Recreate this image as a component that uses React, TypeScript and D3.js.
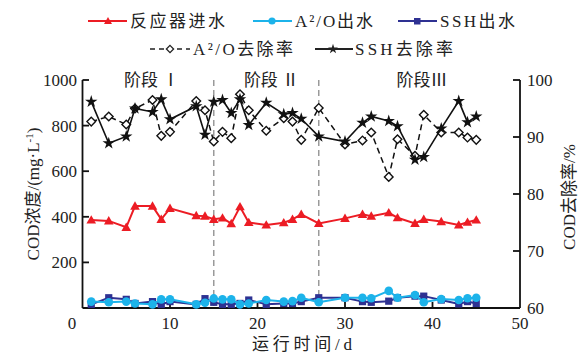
import React from "react";
import * as d3 from "d3";

const days = [1,3,5,6,8,9,10,13,14,15,16,17,18,19,21,23,24,25,27,30,32,33,35,36,38,39,41,43,44,45];
const influent = [386,382,354,447,447,389,437,405,403,389,395,370,444,375,364,374,389,411,371,393,411,403,418,396,371,389,379,364,376,386];
const a2oEff = [28,25,28,20,16,38,38,16,23,42,38,38,16,20,35,28,30,45,25,45,45,43,75,45,57,25,39,35,43,45];
const sshEff = [16,45,38,20,28,16,28,16,41,25,16,16,20,35,16,20,20,28,45,45,28,25,30,45,52,52,35,18,28,20];
const a2oRem = [92.7,93.6,92.2,95.0,96.5,90.2,90.9,96.3,94.7,89.2,90.9,89.8,97.5,94.7,91.1,93.3,92.7,89.5,95.1,88.7,89.4,90.8,83.0,89.6,86.7,93.9,90.8,90.8,89.9,89.5];
const sshRem = [96.2,88.9,90.1,95.0,94.4,96.6,93.1,95.4,90.4,96.2,96.5,94.2,96.6,92.1,96.0,94.0,94.2,93.2,90.1,89.2,92.5,93.6,92.8,91.9,86.0,86.5,91.5,96.3,92.6,93.6];
const xTicks = [0,10,20,30,40,50];
const yLTicks = [200,400,600,800,1000];
const yRTicks = [60,70,80,90,100];
const stageDays = [15,27];
const stageLabels = [
  { text: "阶段 Ⅰ", day: 7.9 },
  { text: "阶段 Ⅱ", day: 21.6 },
  { text: "阶段Ⅲ", day: 38.8 },
];

const RED = "#ec1c24";
const CYAN = "#1cb3ea";
const BLUE = "#2e3192";
const FONT = "'Liberation Serif', 'Noto Sans CJK SC', serif";

const W = 582, H = 354;
const x = d3.scaleLinear().domain([0, 50]).range([82.5, 520]);
const yL = d3.scaleLinear().domain([0, 1000]).range([308, 80]);
const yR = d3.scaleLinear().domain([60, 100]).range([308, 80]);

const tri = (cx: number, cy: number, s = 4.8) =>
  `M${cx},${cy - s}L${cx + s},${cy + s * 0.75}L${cx - s},${cy + s * 0.75}Z`;
const diamond = (cx: number, cy: number, s = 4.3) =>
  `M${cx},${cy - s}L${cx + s},${cy}L${cx},${cy + s}L${cx - s},${cy}Z`;
const starPath = d3.symbol().type(d3.symbolStar).size(48)();

export default function App() {
  const lineL = (vals: number[]) =>
    d3.line<number>().x((_, i) => x(days[i])).y((v) => yL(v))(vals) as string;
  const lineR = (vals: number[]) =>
    d3.line<number>().x((_, i) => x(days[i])).y((v) => yR(v))(vals) as string;

  return (
    <svg width={W} height={H} style={{ position: "absolute", left: 0, top: 0, background: "#fff" }} fontFamily={FONT}>
      {/* legend */}
      <g fontSize={17} fill="#222">
        <line x1={88} x2={127} y1={21} y2={21} stroke={RED} strokeWidth={2} />
        <path d={tri(108, 21, 4)} fill={RED} />
        <text x={130} y={27} textLength={95} lengthAdjust="spacing">反应器进水</text>
        <line x1={253} x2={292} y1={21} y2={21} stroke={CYAN} strokeWidth={2} />
        <circle cx={272} cy={21} r={3.6} fill={CYAN} />
        <text x={295} y={27} textLength={78} lengthAdjust="spacing">A²/O出水</text>
        <line x1={398} x2={437} y1={21} y2={21} stroke={BLUE} strokeWidth={2} />
        <rect x={414} y={18} width={6.5} height={6.5} fill={BLUE} />
        <text x={440} y={27} textLength={75} lengthAdjust="spacing">SSH出水</text>

        <line x1={150} x2={190} y1={49} y2={49} stroke="#222" strokeWidth={1.6} strokeDasharray="5,4" />
        <path d={diamond(170, 49, 3.6)} fill="#fff" stroke="#222" strokeWidth={1.3} />
        <text x={193} y={55} textLength={100} lengthAdjust="spacing">A²/O去除率</text>
        <line x1={315} x2={353} y1={49} y2={49} stroke="#222" strokeWidth={2} />
        <path d={starPath} transform="translate(333,49) scale(0.8)" fill="#222" />
        <text x={355} y={55} textLength={98} lengthAdjust="spacing">SSH去除率</text>
      </g>

      {/* stage dividers */}
      {stageDays.map((d) => (
        <line key={d} x1={x(d)} x2={x(d)} y1={80} y2={308} stroke="#9a9a9a" strokeWidth={1.5} strokeDasharray="6,4" />
      ))}
      {stageLabels.map((s) => (
        <text key={s.text} x={x(s.day)} y={86} textAnchor="middle" fontSize={17} fill="#222">{s.text}</text>
      ))}

      {/* axes */}
      <g stroke="#111" strokeWidth={1.8} fill="none">
        <line x1={82.5} x2={82.5} y1={80} y2={308} />
        <line x1={520} x2={520} y1={80} y2={308} />
        <line x1={82.5} x2={520} y1={308} y2={308} />
        {yLTicks.map((t) => (
          <line key={"l" + t} x1={82.5} x2={89} y1={yL(t)} y2={yL(t)} />
        ))}
        {yRTicks.map((t) => (
          <line key={"r" + t} x1={513} x2={520} y1={yR(t)} y2={yR(t)} />
        ))}
        {xTicks.slice(1, -1).map((t) => (
          <line key={"x" + t} x1={x(t)} x2={x(t)} y1={308} y2={302} />
        ))}
      </g>
      <g fontSize={17} fill="#222">
        {yLTicks.map((t) => (
          <text key={"lt" + t} x={77} y={yL(t) + 6} textAnchor="end">{t}</text>
        ))}
        <text x={72} y={329} textAnchor="middle">0</text>
        {xTicks.slice(1).map((t) => (
          <text key={"xt" + t} x={x(t)} y={329} textAnchor="middle">{t}</text>
        ))}
        {yRTicks.map((t) => (
          <text key={"rt" + t} x={527} y={yR(t) + 6}>{t}</text>
        ))}
        <text x={302} y={350} textAnchor="middle" textLength={100} lengthAdjust="spacing">运行时间/d</text>
        <text transform="translate(39,194) rotate(-90)" textAnchor="middle">
          COD浓度/(mg·L<tspan dy={-6} fontSize={11}>-1</tspan><tspan dy={6}>)</tspan>
        </text>
        <text transform="translate(575,197) rotate(-90)" textAnchor="middle">COD去除率/%</text>
      </g>

      {/* influent */}
      <path d={lineL(influent)} fill="none" stroke={RED} strokeWidth={2} />
      {influent.map((v, i) => (
        <path key={"in" + i} d={tri(x(days[i]), yL(v))} fill={RED} />
      ))}

      {/* SSH effluent */}
      <path d={lineL(sshEff)} fill="none" stroke={BLUE} strokeWidth={2} />
      {sshEff.map((v, i) => (
        <rect key={"se" + i} x={x(days[i]) - 3.6} y={yL(v) - 3.6} width={7.2} height={7.2} fill={BLUE} />
      ))}

      {/* A2O effluent */}
      <path d={lineL(a2oEff)} fill="none" stroke={CYAN} strokeWidth={2} />
      {a2oEff.map((v, i) => (
        <circle key={"ae" + i} cx={x(days[i])} cy={yL(v)} r={4.3} fill={CYAN} />
      ))}

      {/* A2O removal */}
      <path d={lineR(a2oRem)} fill="none" stroke="#111" strokeWidth={1.5} strokeDasharray="6,4" />
      {a2oRem.map((v, i) => (
        <path key={"ar" + i} d={diamond(x(days[i]), yR(v))} fill="#fff" stroke="#111" strokeWidth={1.4} />
      ))}

      {/* SSH removal */}
      <path d={lineR(sshRem)} fill="none" stroke="#111" strokeWidth={1.6} />
      {sshRem.map((v, i) => (
        <path key={"sr" + i} d={starPath} transform={`translate(${x(days[i])},${yR(v)})`} fill="#111" />
      ))}
    </svg>
  );
}
